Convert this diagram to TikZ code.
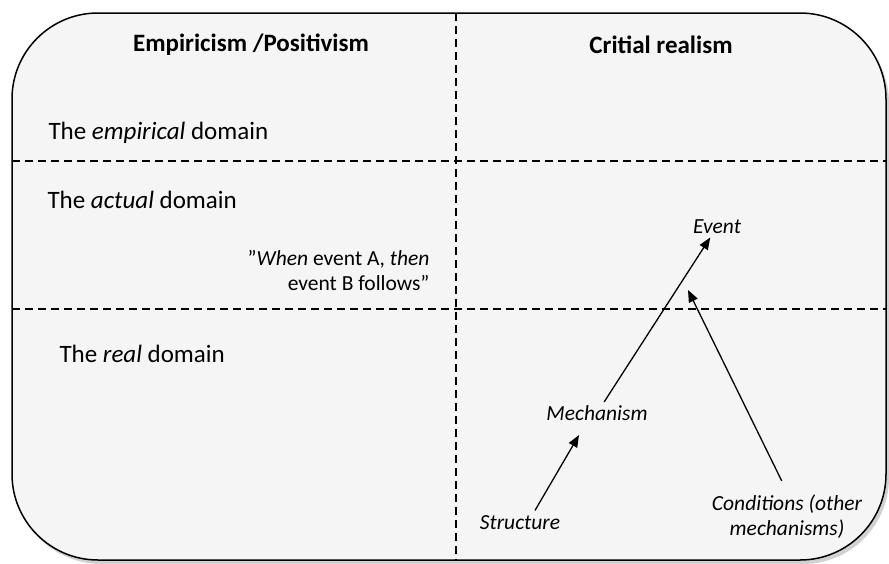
\documentclass[tikz,border=0pt]{standalone}
\usepackage{fontspec}
\setmainfont{Carlito}
\usetikzlibrary{arrows.meta}

\tikzset{
  divider/.style={dashed, dash pattern=on 8pt off 5pt, line width=1.5pt},
  heading/.style={font=\fontsize{25}{30}\selectfont\bfseries},
  domlabel/.style={anchor=west, font=\fontsize{25}{30}\selectfont},
  factor/.style={font=\fontsize{21.5}{25}\selectfont\itshape, align=center},
  cause/.style={-{Triangle[length=12pt,width=9.5pt]}, line width=1.3pt}
}

\begin{document}
\begin{tikzpicture}[x=1pt,y=-1pt]

\useasboundingbox (0,0) rectangle (889,563);

% frame with a soft shadow
\fill[black!18] (15,17) [rounded corners=86pt] rectangle (889,564);
\filldraw[fill=black!4, draw=black, line width=1.5pt, rounded corners=86pt]
(12,13) rectangle (886,560);

\draw[divider] (456,13) -- (456,560);
\draw[divider] (12,161) -- (886,161);
\draw[divider] (12,309) -- (886,309);

\node[heading] (empi) at (251,45) {Empiricism /Positivism};
\node[heading] (crit) at (661,45) {Critial realism};

\node[domlabel] (empdom) at (45,133) {The \textit{empirical} domain};
\node[domlabel] (actdom) at (44,200) {The \textit{actual} domain};
\node[domlabel] (realdom) at (56,354) {The \textit{real} domain};

\node[anchor=east, align=right, font=\fontsize{21.5}{25}\selectfont] (rule) at (433,270)
{”\textit{When} event A, \textit{then}\\ event B follows”};

\node[factor] (event) at (717,227) {Event};
\node[factor] (mech) at (597,413) {Mechanism};
\node[factor] (struct) at (520,523) {Structure};
\node[factor] (cond) at (787,517) {Conditions (other\\ mechanisms)};
\coordinate (hit) at (688,290);

\draw[cause] (mech) -- (event);
\draw[cause] ([xshift=15pt,yshift=2pt]struct.north) -- ([xshift=-18pt,yshift=-11pt]mech.south);
\draw[cause, shorten <=12pt] (cond.north) -- (hit);

\end{tikzpicture}
\end{document}
